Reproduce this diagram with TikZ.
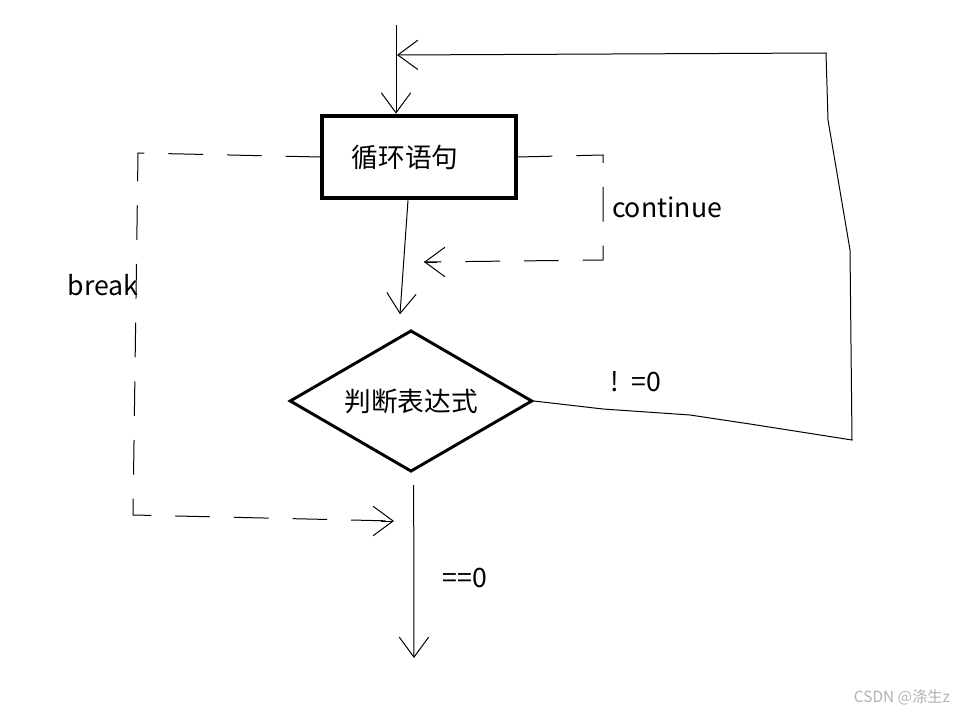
\documentclass[tikz,border=0pt]{standalone}
\usepackage{fontspec}
\setmainfont{Noto Sans CJK SC}
\usetikzlibrary{shapes.geometric,arrows.meta}

\tikzset{
  flow/.style={line width=0.75pt},
  loopdash/.style={flow, dash pattern=on 26pt off 18pt},
  tip/.style={-{Straight Barb[length=15pt,width=22pt,line width=0.75pt]}},
  stmtbox/.style={draw, line width=3pt, minimum width=145pt, minimum height=62pt,
    inner xsep=22pt, inner ysep=0pt, text width=101pt, align=left},
  judgebox/.style={draw, diamond, aspect=2, line width=2.2pt, minimum width=182pt, minimum height=106pt, inner sep=0pt},
  lbl/.style={font=\fontsize{20}{23}\selectfont},
}

\begin{document}
\begin{tikzpicture}[x=0.75pt, y=-0.75pt, every node/.append style={lbl}]
  \useasboundingbox (0,0) rectangle (968,717);

  % 框
  \node[stmtbox] (stmt) at (419,157) {循环语句};
  \node[judgebox] (judge) at (411,401) {判断表达式};

  % 转折点
  \coordinate (entry) at (396,25);
  \coordinate (c1) at (603,155);
  \coordinate (c2) at (603,260);
  \coordinate (cend) at (424,262);
  \coordinate (b1) at (138,153);
  \coordinate (b2) at (133,515);
  \coordinate (bend) at (394,521);
  \coordinate (r0) at (603,409);
  \coordinate (r1) at (690,415);
  \coordinate (r2) at (750,424);
  \coordinate (r3) at (852,440);
  \coordinate (r4) at (850,250);
  \coordinate (r5) at (828,120);
  \coordinate (r6) at (826,53);
  \coordinate (rend) at (397,55);
  \coordinate (exit) at (414,658);

  % 主流程
  \draw[flow, tip] (entry) -- (entry |- stmt.north);
  \draw[flow, tip] ([xshift=-8.25pt]stmt.south) -- ([xshift=-8.25pt,yshift=11pt]judge.north);
  \draw[flow, tip] ([xshift=2pt,yshift=-9pt]judge.south) -- (exit);

  % continue
  \draw[loopdash] (stmt.east) -- (c1) -- (c2) -- (cend);
  \draw[flow, tip] ([xshift=10pt]cend) -- (cend);
  \node (contlbl) at (667,207) {continue};

  % break
  \draw[loopdash] (stmt.west) -- (b1) -- (b2) -- (bend);
  \draw[flow, tip] ([xshift=-10pt]bend) -- (bend);
  \node (brklbl) at (103,285) {break};

  % !=0 回到循环
  \draw[flow, tip] (judge.east) -- (r0) -- (r1) -- (r2) -- (r3) -- (r4) -- (r5) -- (r6) -- (rend);
  \node (nelbl) at (636,382) {!\ \ =0};

  % ==0
  \node (eqlbl) at (465,578) {==0};

  \node[text=black!30, font=\fontsize{11.5}{13}\selectfont] (mark) at (902,697) {CSDN @涤生z};
\end{tikzpicture}
\end{document}
